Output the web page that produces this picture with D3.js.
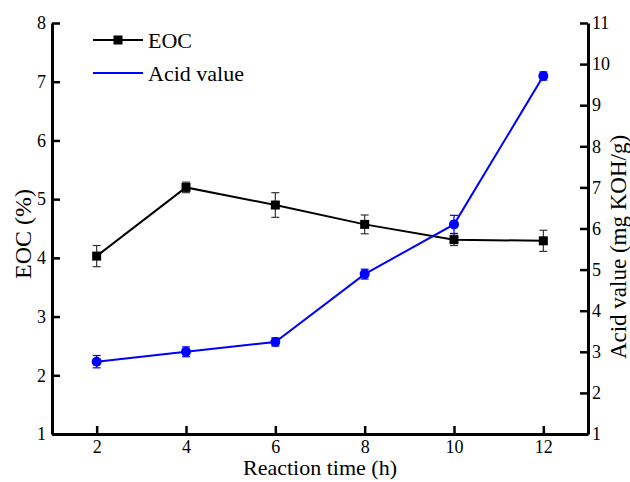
<!DOCTYPE html>
<html>
<head>
<meta charset="utf-8">
<script src="https://cdn.jsdelivr.net/npm/d3@7"></script>
<style>
  html, body { margin: 0; padding: 0; background: #fff; }
  svg text { font-family: "Liberation Serif", "Times New Roman", serif; fill: #000; }
</style>
</head>
<body>
<svg id="chart" width="630" height="482"></svg>
<script>
const times = [2, 4, 6, 8, 10, 12];
const eoc = [4.03, 5.20, 4.90, 4.57, 4.31, 4.29];
const eocErr = [0.18, 0.09, 0.21, 0.16, 0.10, 0.18];
const acid = [2.76, 3.00, 3.24, 4.89, 6.10, 9.71];
const acidErr = [0.15, 0.12, 0.10, 0.12, 0.22, 0.10];
const xTicks = [2, 4, 6, 8, 10, 12];
const yLeftTicks = [1, 2, 3, 4, 5, 6, 7, 8];
const yRightTicks = [1, 2, 3, 4, 5, 6, 7, 8, 9, 10, 11];

const svg = d3.select("#chart");
const L = 52, R = 588, T = 23, B = 434;

const x = d3.scaleLinear().domain([1, 13]).range([L, R]);
const yL = d3.scaleLinear().domain([1, 8]).range([B, T]);
const yR = d3.scaleLinear().domain([1, 11]).range([B, T]);

function styleAxis(g) {
  g.attr("font-family", null);
  g.select(".domain").attr("stroke", "#000").attr("stroke-width", 3);
  g.selectAll(".tick line").attr("stroke", "#000").attr("stroke-width", 2.5);
  g.selectAll(".tick text").style("font-size", "18px").style("font-family", "'Liberation Serif', serif");
}

svg.append("g").attr("transform", `translate(0,${B})`)
  .call(d3.axisBottom(x).tickValues(xTicks).tickFormat(d3.format("d")).tickSizeInner(-8).tickSizeOuter(0).tickPadding(6))
  .call(styleAxis);

svg.append("g").attr("transform", `translate(${L},0)`)
  .call(d3.axisLeft(yL).tickValues(yLeftTicks).tickFormat(d3.format("d")).tickSizeInner(-8).tickSizeOuter(0).tickPadding(6))
  .call(styleAxis);

svg.append("g").attr("transform", `translate(${R},0)`)
  .call(d3.axisRight(yR).tickValues(yRightTicks).tickFormat(d3.format("d")).tickSizeInner(-8).tickSizeOuter(0).tickPadding(4))
  .call(styleAxis);

// Axis titles
svg.append("text").attr("x", (L + R) / 2).attr("y", 475).attr("text-anchor", "middle")
  .style("font-size", "22px").text("Reaction time (h)");
svg.append("text").attr("transform", `translate(31,234) rotate(-90)`).attr("text-anchor", "middle")
  .style("font-size", "24px").text("EOC (%)");
svg.append("text").attr("transform", `translate(626,247) rotate(-90)`).attr("text-anchor", "middle")
  .style("font-size", "23px").text("Acid value (mg KOH/g)");

// Series
const eocData = times.map((t, i) => ({ t, v: eoc[i], e: eocErr[i] }));
const acidData = times.map((t, i) => ({ t, v: acid[i], e: acidErr[i] }));

svg.append("path").datum(eocData)
  .attr("fill", "none").attr("stroke", "#000").attr("stroke-width", 2)
  .attr("d", d3.line().x(d => x(d.t)).y(d => yL(d.v)));

svg.append("path").datum(acidData)
  .attr("fill", "none").attr("stroke", "#0000ff").attr("stroke-width", 2)
  .attr("d", d3.line().x(d => x(d.t)).y(d => yR(d.v)));

function errBars(data, ys, color) {
  const g = svg.append("g").attr("stroke", color).attr("stroke-width", 1.2);
  data.forEach(d => {
    const cx = x(d.t), y1 = ys(d.v - d.e), y2 = ys(d.v + d.e);
    g.append("line").attr("x1", cx).attr("x2", cx).attr("y1", y1).attr("y2", y2);
    g.append("line").attr("x1", cx - 4).attr("x2", cx + 4).attr("y1", y1).attr("y2", y1);
    g.append("line").attr("x1", cx - 4).attr("x2", cx + 4).attr("y1", y2).attr("y2", y2);
  });
}
errBars(eocData, yL, "#333");
errBars(acidData, yR, "#0000ff");

svg.append("g").selectAll("rect").data(eocData).join("rect")
  .attr("x", d => x(d.t) - 4.5).attr("y", d => yL(d.v) - 4.5)
  .attr("width", 9).attr("height", 9).attr("fill", "#000");

svg.append("g").selectAll("circle").data(acidData).join("circle")
  .attr("cx", d => x(d.t)).attr("cy", d => yR(d.v)).attr("r", 5)
  .attr("fill", "#0000ff");

// Legend
const lg = svg.append("g");
lg.append("line").attr("x1", 93).attr("x2", 143).attr("y1", 40).attr("y2", 40).attr("stroke", "#000").attr("stroke-width", 2);
lg.append("rect").attr("x", 118 - 4.5).attr("y", 40 - 4.5).attr("width", 9).attr("height", 9).attr("fill", "#000");
lg.append("text").attr("x", 148).attr("y", 48).style("font-size", "22px").text("EOC");
lg.append("line").attr("x1", 93).attr("x2", 143).attr("y1", 73).attr("y2", 73).attr("stroke", "#0000ff").attr("stroke-width", 2);
lg.append("text").attr("x", 148).attr("y", 81).style("font-size", "22px").text("Acid value");
</script>
</body>
</html>
